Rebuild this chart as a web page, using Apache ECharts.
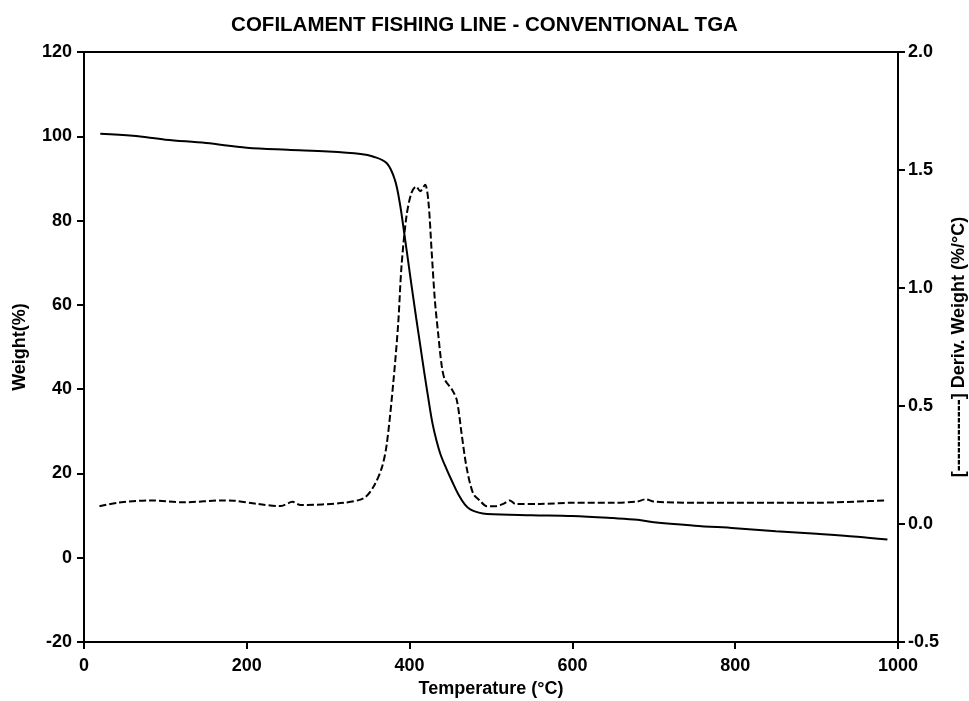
<!DOCTYPE html>
<html>
<head>
<meta charset="utf-8">
<script src="https://cdn.jsdelivr.net/npm/echarts@6/dist/echarts.min.js"></script>
<style>
  html, body { margin: 0; padding: 0; background: #fff; }
  #chart { width: 969px; height: 701px; }
</style>
</head>
<body>
<div id="chart"></div>
<script>
// Weight loss curve (solid): temperature in °C, weight in %
const weightTemp = [20, 60, 100, 150, 200, 250, 300, 340, 355, 372, 382, 388, 394, 402, 408, 413, 418, 423, 428, 433, 438, 445, 452, 460, 468, 475, 485, 495, 550, 600, 650, 680, 700, 750, 800, 850, 900, 950, 987];
const weightPct  = [100.6, 100.1, 99.2, 98.4, 97.3, 96.8, 96.4, 95.8, 95.2, 93.6, 89.6, 84.1, 76.2, 65.1, 57.0, 50.5, 44.0, 37.8, 32.0, 27.8, 24.5, 21.2, 18.2, 15.0, 12.6, 11.4, 10.7, 10.4, 10.1, 9.9, 9.4, 9.0, 8.4, 7.6, 7.0, 6.3, 5.7, 5.0, 4.3];

// Derivative curve (dashed): temperature in °C, deriv. weight in %/°C
const derivTemp = [19, 41, 82, 123, 172, 184, 213, 242, 256, 266, 319, 344, 356, 366, 372, 380, 386, 390, 396, 402, 408, 413, 419, 423, 427, 431, 435, 439.5, 443.5, 452, 458, 464, 470, 478, 486, 495, 505, 515, 523, 530, 560, 600, 650, 680, 690, 700, 750, 800, 850, 900, 950, 985];
const derivVal  = [0.075, 0.09, 0.10, 0.092, 0.10, 0.099, 0.085, 0.076, 0.094, 0.08, 0.09, 0.11, 0.16, 0.24, 0.34, 0.60, 0.85, 1.09, 1.30, 1.40, 1.43, 1.41, 1.437, 1.37, 1.16, 0.95, 0.81, 0.67, 0.61, 0.57, 0.525, 0.38, 0.24, 0.13, 0.10, 0.075, 0.075, 0.085, 0.10, 0.085, 0.085, 0.09, 0.09, 0.095, 0.105, 0.095, 0.09, 0.09, 0.09, 0.09, 0.095, 0.10];

const xTicks = [0, 200, 400, 600, 800, 1000];
const leftTicks = [-20, 0, 20, 40, 60, 80, 100, 120];
const rightTicks = [-0.5, 0.0, 0.5, 1.0, 1.5, 2.0];

const FONT = '"Liberation Sans", Arial, sans-serif';
const labelStyle = { fontFamily: FONT, fontSize: 18, fontWeight: 'bold', color: '#000' };
const nameStyle = { fontFamily: FONT, fontSize: 18, fontWeight: 'bold', color: '#000' };
const axisLine = { show: true, onZero: false, lineStyle: { color: '#000', width: 2 } };
const axisTick = { show: true, length: 7, lineStyle: { color: '#000', width: 2 } };

const pair = (xs, ys) => xs.map((x, i) => [x, ys[i]]);

const chart = echarts.init(document.getElementById('chart'));
chart.setOption({
  animation: false,
  backgroundColor: '#fff',
  title: {
    text: 'COFILAMENT FISHING LINE - CONVENTIONAL TGA',
    left: 'center',
    top: 10,
    textStyle: { fontFamily: FONT, fontSize: 20.5, fontWeight: 'bold', color: '#000' }
  },
  grid: {
    left: 84, right: 71, top: 52, bottom: 59,
    outerBoundsMode: 'none', containLabel: false,
    show: true, borderColor: '#000', borderWidth: 2, backgroundColor: 'transparent'
  },
  xAxis: {
    type: 'value',
    min: xTicks[0], max: xTicks[xTicks.length - 1], interval: 200,
    name: 'Temperature (°C)',
    nameLocation: 'middle', nameGap: 37,
    nameTextStyle: nameStyle,
    axisLine: axisLine,
    axisTick: axisTick,
    axisLabel: Object.assign({ margin: 15, formatter: v => String(v) }, labelStyle),
    splitLine: { show: false }
  },
  yAxis: [
    {
      type: 'value',
      min: leftTicks[0], max: leftTicks[leftTicks.length - 1], interval: 20,
      name: 'Weight(%)',
      nameLocation: 'middle', nameGap: 55, nameRotate: 90,
      nameTextStyle: nameStyle,
      axisLine: axisLine,
      axisTick: axisTick,
      axisLabel: Object.assign({ margin: 12 }, labelStyle),
      splitLine: { show: false }
    },
    {
      type: 'value', position: 'right',
      min: rightTicks[0], max: rightTicks[rightTicks.length - 1], interval: 0.5,
      name: '[------------] Deriv. Weight (%/°C)',
      nameLocation: 'middle', nameGap: 51, nameRotate: 90,
      nameTextStyle: nameStyle,
      axisLine: axisLine,
      axisTick: axisTick,
      axisLabel: Object.assign({ margin: 10, formatter: v => v.toFixed(1) }, labelStyle),
      splitLine: { show: false }
    }
  ],
  series: [
    {
      name: 'Weight', type: 'line', yAxisIndex: 0,
      data: pair(weightTemp, weightPct),
      smooth: 0.35, showSymbol: false,
      lineStyle: { color: '#000', width: 2 }
    },
    {
      name: 'Deriv. Weight', type: 'line', yAxisIndex: 1,
      data: pair(derivTemp, derivVal),
      smooth: 0.3, showSymbol: false,
      lineStyle: { color: '#000', width: 2, type: [7, 3] }
    }
  ]
});
</script>
</body>
</html>
